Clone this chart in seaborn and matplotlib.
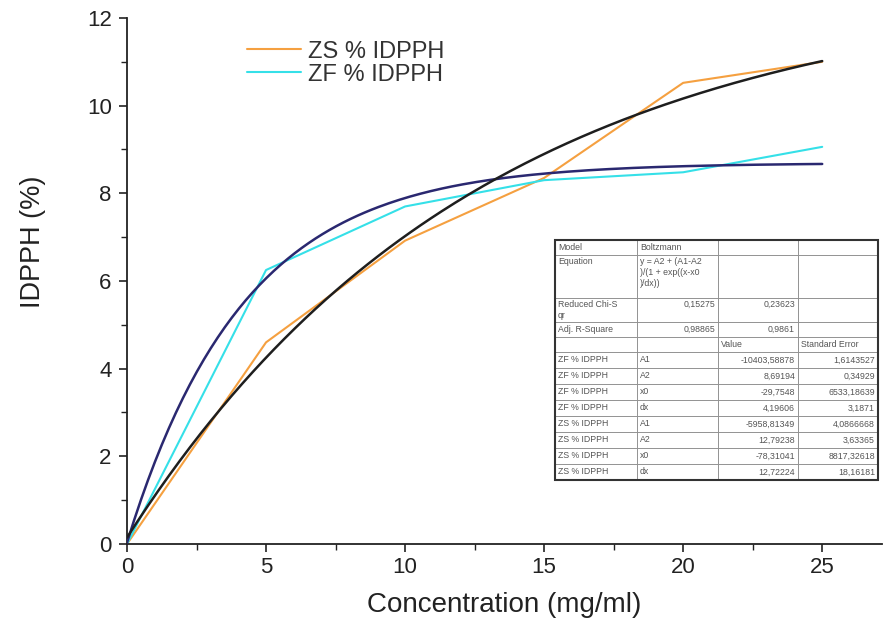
import numpy as np
import pandas as pd
import matplotlib
matplotlib.use("Agg")
import matplotlib.pyplot as plt
import seaborn as sns

# ---- data ----
conc = [0, 5, 10, 15, 20, 25]
zs_idpph = [0.0, 4.6, 6.92, 8.35, 10.52, 11.0]
zf_idpph = [0.0, 6.25, 7.7, 8.3, 8.48, 9.06]

# Boltzmann fit parameters (from the table)
zf_A1, zf_A2, zf_x0, zf_dx = -10403.58878, 8.69194, -29.7548, 4.19606
zs_A1, zs_A2, zs_x0, zs_dx = -5958.81349, 12.79238, -78.31041, 12.72224

table_rows = [
    ["Model", "Boltzmann", "", ""],
    ["Equation", "y = A2 + (A1-A2\n)/(1 + exp((x-x0\n)/dx))", "", ""],
    ["Reduced Chi-S\nqr", "0,15275", "0,23623", ""],
    ["Adj. R-Square", "0,98865", "0,9861", ""],
    ["", "", "Value", "Standard Error"],
    ["ZF % IDPPH", "A1", "-10403,58878", "1,6143527"],
    ["ZF % IDPPH", "A2", "8,69194", "0,34929"],
    ["ZF % IDPPH", "x0", "-29,7548", "6533,18639"],
    ["ZF % IDPPH", "dx", "4,19606", "3,1871"],
    ["ZS % IDPPH", "A1", "-5958,81349", "4,0866668"],
    ["ZS % IDPPH", "A2", "12,79238", "3,63365"],
    ["ZS % IDPPH", "x0", "-78,31041", "8817,32618"],
    ["ZS % IDPPH", "dx", "12,72224", "18,16181"],
]


def boltzmann(x, A1, A2, x0, dx):
    return A2 + (A1 - A2) / (1 + np.exp((x - x0) / dx))


xfit = np.linspace(0, 25, 200)
data_df = pd.DataFrame({
    "x": conc + conc,
    "y": zs_idpph + zf_idpph,
    "series": ["ZS % IDPPH"] * len(conc) + ["ZF % IDPPH"] * len(conc),
})

sns.set_style("ticks")
plt.rcParams["font.family"] = ["Liberation Sans", "DejaVu Sans"]

fig = plt.figure(figsize=(8.85, 6.35), dpi=100)
W, H = 885, 635
ax = fig.add_axes([0.1435, 0.1433, 0.8531, 0.8284])

sns.lineplot(data=data_df, x="x", y="y", hue="series",
             palette={"ZS % IDPPH": "#f5a040", "ZF % IDPPH": "#35e0e8"},
             linewidth=1.5, ax=ax, sort=False)
ax.plot(xfit, boltzmann(xfit, zf_A1, zf_A2, zf_x0, zf_dx), color="#2a2870", lw=1.8, zorder=3)
ax.plot(xfit, boltzmann(xfit, zs_A1, zs_A2, zs_x0, zs_dx), color="#1e1e1e", lw=1.8, zorder=3)

ax.set_xlim(0, 27.15)
ax.set_ylim(0, 12)
ax.set_xticks([0, 5, 10, 15, 20, 25])
ax.set_xticks(np.arange(2.5, 27, 5), minor=True)
ax.set_yticks([0, 2, 4, 6, 8, 10, 12])
ax.set_yticks(np.arange(1, 12, 2), minor=True)
ax.tick_params(axis="both", which="major", labelsize=16, length=6, width=1.2,
               direction="out", colors="#222222", labelcolor="#222222")
ax.tick_params(axis="y", which="major", pad=5)
ax.tick_params(axis="both", which="minor", length=4, width=1.0, direction="out",
               colors="#222222")
for s in ["top", "right"]:
    ax.spines[s].set_visible(False)
for s in ["left", "bottom"]:
    ax.spines[s].set_linewidth(1.3)
    ax.spines[s].set_color("#222222")
ax.set_xlabel("Concentration (mg/ml)", fontsize=20, color="#222222", labelpad=10)
ax.set_ylabel("IDPPH (%)", fontsize=19.5, color="#222222")
ax.yaxis.set_label_coords(-0.107, 0.574)

leg = ax.legend(loc="upper left", bbox_to_anchor=(0.147, 0.975), frameon=False,
                fontsize=17, handlelength=2.25, handletextpad=0.3, labelspacing=0.05,
                borderaxespad=0)
for t in leg.get_texts():
    t.set_color("#333333")

# ---- fit results table, drawn in figure pixel coordinates ----
col_w = [82, 81, 80, 80]
row_h = [15, 43, 24, 15, 15] + [16] * 8
x0_px, y0_px = 555, 240  # top-left corner in image pixels
right_cells = {(2, 1), (2, 2), (3, 1), (3, 2)}
y = y0_px
for r, row in enumerate(table_rows):
    x = x0_px
    for c, txt in enumerate(row):
        rect = plt.Rectangle((x / W, 1 - (y + row_h[r]) / H), col_w[c] / W, row_h[r] / H,
                             transform=fig.transFigure, fill=True, facecolor="white",
                             edgecolor="#8a8a8a", lw=0.6, zorder=5)
        fig.add_artist(rect)
        if txt:
            right = (r >= 5 and c >= 2) or (r, c) in right_cells
            tx = (x + col_w[c] - 3) if right else (x + 3)
            if "\n" in txt or r in (1, 2):
                ty, va = y + 2, "top"
            else:
                ty, va = y + row_h[r] / 2, "center"
            fig.text(tx / W, 1 - ty / H, txt, ha="right" if right else "left",
                     va=va, fontsize=6.3, color="#555555", linespacing=1.25,
                     zorder=6)
        x += col_w[c]
    y += row_h[r]
fig.add_artist(plt.Rectangle((x0_px / W, 1 - (y0_px + sum(row_h)) / H), sum(col_w) / W,
                             sum(row_h) / H, transform=fig.transFigure, fill=False,
                             edgecolor="#333333", lw=1.5, zorder=7))

fig.savefig("out.png", dpi=100)
